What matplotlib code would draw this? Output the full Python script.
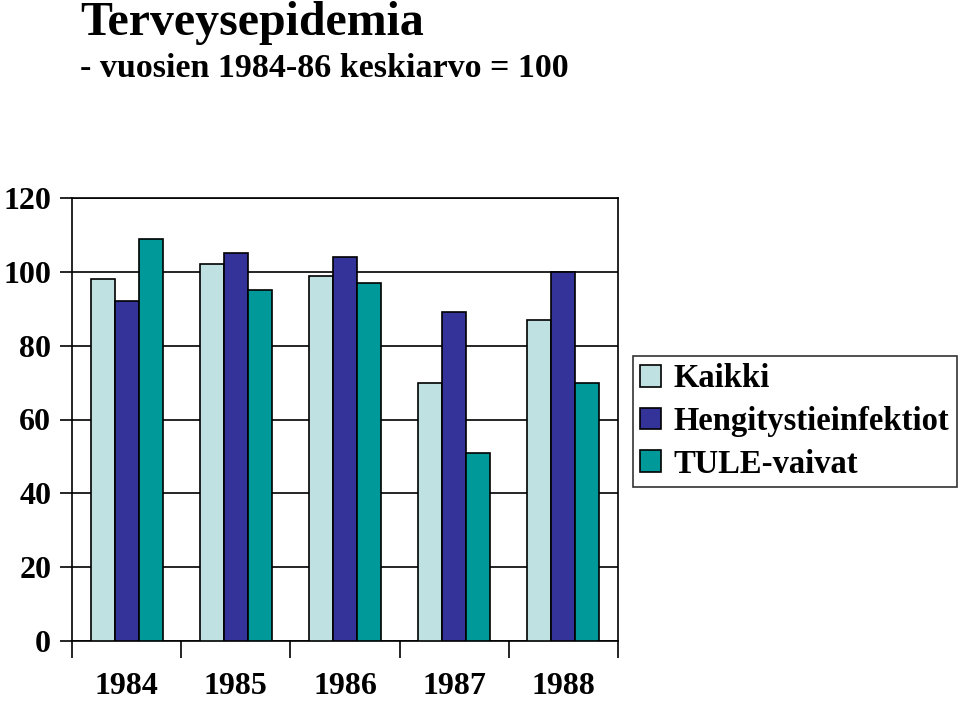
import matplotlib
matplotlib.use("Agg")
import matplotlib.pyplot as plt
import numpy as np

years = ["1984", "1985", "1986", "1987", "1988"]
series_names = ["Kaikki", "Hengitystieinfektiot", "TULE-vaivat"]
kaikki = [98, 102, 99, 70, 87]
hengitys = [92, 105, 104, 89, 100]
tule = [109, 95, 97, 51, 70]
colors = ["#BFE1E1", "#333399", "#009999"]
yticks = [0, 20, 40, 60, 80, 100, 120]

plt.rcParams['font.family'] = ['Liberation Serif', 'DejaVu Serif']
plt.rcParams['font.weight'] = 'bold'

fig = plt.figure(figsize=(9.6, 7.01), dpi=100)
ax = fig.add_axes([72/960, 1-641/701, (618-72)/960, (641-198)/701])

x = np.arange(len(years))
w = 0.22
for i, (vals, name, c) in enumerate(zip([kaikki, hengitys, tule], series_names, colors)):
    ax.bar(x + (i-1)*w, vals, width=w, color=c, edgecolor='black', linewidth=1.2,
           label=name, zorder=3)

ax.set_xlim(-0.5, len(years)-0.5)
ax.set_ylim(0, 120)
ax.set_yticks(yticks)
ax.set_yticklabels([str(v) for v in yticks], fontsize=23, fontweight='bold')
ax.yaxis.grid(True, color='black', linewidth=1.2, zorder=0)
ax.set_axisbelow(True)
ax.tick_params(axis='y', length=9, width=1.2, pad=6, direction='out')

ax.set_xticks(np.arange(-0.5, len(years), 1.0))
ax.set_xticklabels([])
ax.set_xticks(x, minor=True)
ax.set_xticklabels(years, minor=True, fontsize=23, fontweight='bold')
ax.tick_params(axis='x', which='major', length=12, width=1.2, direction='out')
ax.tick_params(axis='x', which='minor', length=0, pad=22)
for s in ax.spines.values():
    s.set_linewidth(1.2)
    s.set_color('black')

fig.text(80/960, 1-35/701, "Terveysepidemia", fontsize=34.5, fontweight='bold',
         va='baseline', ha='left')
fig.text(80/960, 1-77/701, "- vuosien 1984-86 keskiarvo = 100", fontsize=24.5,
         fontweight='bold', va='baseline', ha='left')

leg = fig.legend(loc='upper left', bbox_to_anchor=(633/960, 1-356/701),
                 prop={'size': 23.5, 'weight': 'bold'}, frameon=True, fancybox=False,
                 edgecolor='black', handlelength=0.65, handleheight=0.65,
                 handletextpad=0.38, labelspacing=0.36, borderpad=0.22,
                 borderaxespad=0)
leg.get_frame().set_linewidth(1.2)

fig.savefig("out.png", dpi=100, facecolor='white')
